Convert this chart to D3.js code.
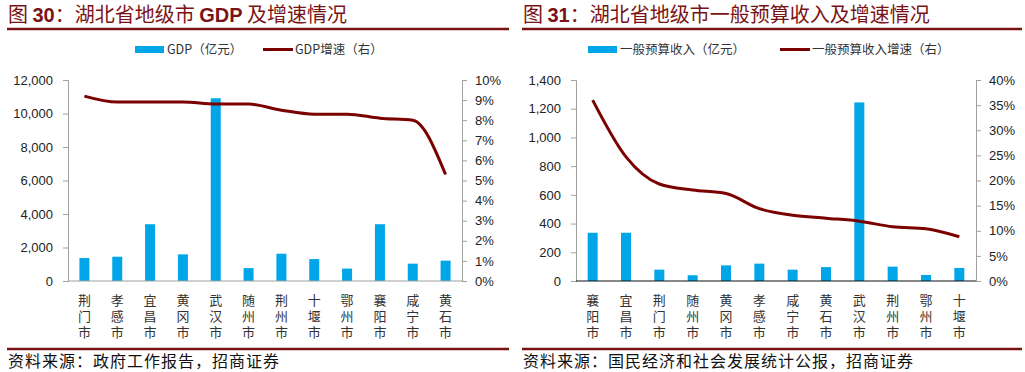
<!DOCTYPE html>
<html>
<head>
<meta charset="utf-8">
<script src="https://cdn.jsdelivr.net/npm/d3@7"></script>
<style>
  body { margin: 0; background: #fff; }
  svg { display: block; }
</style>
</head>
<body>
<svg id="chart" width="1025" height="372"></svg>
<script>
// 图30 数据
const gdpCities = ["荆门市", "孝感市", "宜昌市", "黄冈市", "武汉市", "随州市", "荆州市", "十堰市", "鄂州市", "襄阳市", "咸宁市", "黄石市"];
const gdpValues = [1370, 1450, 3390, 1590, 10910, 770, 1630, 1310, 740, 3390, 1035, 1215];
const gdpGrowth = [9.2, 8.9, 8.9, 8.9, 8.8, 8.8, 8.5, 8.3, 8.3, 8.1, 8.0, 5.3];
const gdpLeftTicks = [0, 2000, 4000, 6000, 8000, 10000, 12000];
const gdpRightTicks = [0, 1, 2, 3, 4, 5, 6, 7, 8, 9, 10];

// 图31 数据
const budgetCities = ["襄阳市", "宜昌市", "荆门市", "随州市", "黄冈市", "孝感市", "咸宁市", "黄石市", "武汉市", "荆州市", "鄂州市", "十堰市"];
const budgetValues = [336, 336, 79, 40, 109, 121, 79, 97, 1244, 100, 42, 91];
const budgetGrowth = [36.0, 24.7, 19.3, 18.1, 17.4, 14.4, 13.1, 12.5, 11.9, 10.8, 10.4, 8.8];
const budgetLeftTicks = [0, 200, 400, 600, 800, 1000, 1200, 1400];
const budgetRightTicks = [0, 5, 10, 15, 20, 25, 30, 35, 40];

const svg = d3.select("#chart");
const red = "#7a1315";
const barColor = "#00a6e8";
const lineColor = "#7b0000";
const numFont = "'Liberation Sans', Arial, sans-serif";
const cjkFont = "'Noto Sans CJK SC', sans-serif";

function drawPanel(opt) {
  const g = svg.append("g");

  // 标题
  const title = g.append("text")
    .attr("x", opt.x0 + 8).attr("y", 22)
    .style("font-family", cjkFont).style("font-size", "20px")
    .attr("fill", red);
  title.append("tspan").text("图 ");
  title.append("tspan").attr("font-weight", "bold").style("font-family", numFont).text(opt.num);
  title.append("tspan").text("：" + opt.titleA);
  if (opt.titleB) {
    title.append("tspan").attr("font-weight", "bold").style("font-family", numFont).text(opt.titleB);
    title.append("tspan").text(opt.titleC);
  }

  g.append("line").attr("x1", opt.x0 + 7).attr("x2", opt.x0 + opt.w - 3)
    .attr("y1", 29).attr("y2", 29).attr("stroke", red).attr("stroke-width", 2.5);
  g.append("line").attr("x1", opt.x0 + 7).attr("x2", opt.x0 + opt.w - 3)
    .attr("y1", 349).attr("y2", 349).attr("stroke", red).attr("stroke-width", 2.5);

  g.append("text").attr("x", opt.x0 + 8).attr("y", 367)
    .style("font-family", cjkFont).style("font-size", "16px").style("letter-spacing", "1px")
    .attr("fill", "#111")
    .text(opt.source);

  // 图例
  const lg = g.append("g").style("font-family", cjkFont).style("font-size", "12.5px").attr("fill", "#333");
  lg.append("rect").attr("x", opt.legBar).attr("y", 46).attr("width", 29).attr("height", 7).attr("fill", barColor);
  lg.append("text").attr("x", opt.legBar + 32).attr("y", 54).text(opt.barName);
  lg.append("line").attr("x1", opt.legLine).attr("x2", opt.legLine + 30).attr("y1", 49.5).attr("y2", 49.5)
    .attr("stroke", lineColor).attr("stroke-width", 3);
  lg.append("text").attr("x", opt.legLine + 32).attr("y", 54).text(opt.lineName);

  const top = 80, bottom = 281;
  const x = d3.scaleBand().domain(opt.cities).range([opt.left, opt.right]);
  const yL = d3.scaleLinear().domain([0, d3.max(opt.leftTicks)]).range([bottom, top]);
  const yR = d3.scaleLinear().domain([0, d3.max(opt.rightTicks)]).range([bottom, top]);

  // 左轴
  const axL = g.append("g").attr("transform", `translate(${opt.left},0)`)
    .call(d3.axisLeft(yL).tickValues(opt.leftTicks).tickSize(5).tickPadding(10).tickFormat(d3.format(",")));
  // 右轴
  const axR = g.append("g").attr("transform", `translate(${opt.right},0)`)
    .call(d3.axisRight(yR).tickValues(opt.rightTicks).tickSize(5).tickPadding(8).tickFormat(d => d + "%"));
  [axL, axR].forEach(a => {
    a.select(".domain").attr("stroke", "#a0a0a0");
    a.selectAll(".tick line").attr("stroke", "#a0a0a0");
    a.selectAll(".tick text").attr("fill", "#222").style("font-family", numFont).style("font-size", "13px");
  });

  // 柱
  const bw = 10;
  g.append("g").selectAll("rect").data(opt.values).join("rect")
    .attr("x", (d, i) => x(opt.cities[i]) + x.bandwidth() / 2 - bw / 2)
    .attr("y", d => yL(d))
    .attr("width", bw)
    .attr("height", d => bottom - yL(d))
    .attr("fill", barColor);

  // x 轴
  g.append("line").attr("x1", opt.left).attr("x2", opt.right).attr("y1", bottom).attr("y2", bottom)
    .attr("stroke", opt.xAxisColor).attr("stroke-width", 1.2);

  // 分类标签（竖排）
  g.append("g").selectAll("text").data(opt.cities).join("text")
    .attr("x", d => x(d) + x.bandwidth() / 2)
    .attr("y", 294)
    .style("writing-mode", "vertical-rl")
    .style("font-family", cjkFont).style("font-size", "13px").style("letter-spacing", "3px")
    .attr("fill", "#333")
    .text(d => d);

  // 折线
  const line = d3.line()
    .x((d, i) => x(opt.cities[i]) + x.bandwidth() / 2)
    .y(d => yR(d))
    .curve(d3.curveMonotoneX);
  g.append("path").datum(opt.growth).attr("d", line)
    .attr("fill", "none").attr("stroke", lineColor).attr("stroke-width", 3)
    .attr("stroke-linejoin", "round");
}

drawPanel({
  x0: 0, w: 512, num: "30", titleA: "湖北省地级市 ", titleB: "GDP", titleC: " 及增速情况",
  source: "资料来源：政府工作报告，招商证券",
  barName: "GDP（亿元）", lineName: "GDP增速（右）", legBar: 135, legLine: 263,
  left: 68, right: 462, xAxisColor: "#a0a0a0",
  cities: gdpCities, values: gdpValues, growth: gdpGrowth,
  leftTicks: gdpLeftTicks, rightTicks: gdpRightTicks
});

drawPanel({
  x0: 515, w: 510, num: "31", titleA: "湖北省地级市一般预算收入及增速情况",
  source: "资料来源：国民经济和社会发展统计公报，招商证券",
  barName: "一般预算收入（亿元）", lineName: "一般预算收入增速（右）", legBar: 588, legLine: 780,
  left: 576, right: 976, xAxisColor: "#111",
  cities: budgetCities, values: budgetValues, growth: budgetGrowth,
  leftTicks: budgetLeftTicks, rightTicks: budgetRightTicks
});
</script>
</body>
</html>
